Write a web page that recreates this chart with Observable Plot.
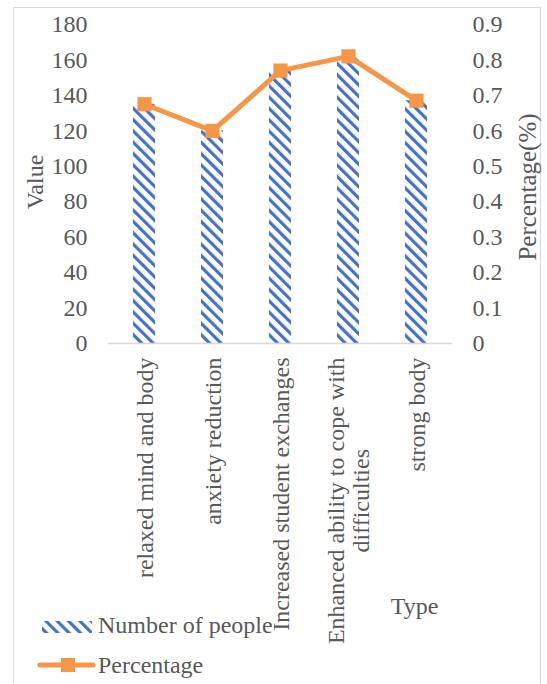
<!DOCTYPE html>
<html>
<head>
<meta charset="utf-8">
<script src="https://cdn.jsdelivr.net/npm/d3@7"></script>
<script src="https://cdn.jsdelivr.net/npm/@observablehq/plot@0.6"></script>
<style>
  html, body { margin: 0; padding: 0; background: #fff; overflow: hidden; }
  #wrap { position: relative; width: 547px; height: 684px; color: #595959;
          font-family: "Liberation Serif", "Times New Roman", serif; }
  #border { position: absolute; left: 13px; top: 7px; width: 528px; height: 720px;
            border: 1px solid #d9d9d9; box-sizing: border-box; pointer-events: none; }
  #chart { position: absolute; left: 0; top: 0; }
  #legend { position: absolute; left: 0; top: 600px; }
</style>
</head>
<body>
<div id="wrap">
  <div id="border"></div>
  <div id="chart"></div>
  <svg id="legend" width="547" height="84"></svg>
</div>
<script>
// Survey results by benefit type
const categories = [
  "relaxed mind and body",
  "anxiety reduction",
  "Increased student exchanges",
  "Enhanced ability to cope with difficulties",
  "strong body"
];
const labelLines = [
  ["relaxed mind and body"],
  ["anxiety reduction"],
  ["Increased student exchanges"],
  ["Enhanced ability to cope with", "difficulties"],
  ["strong body"]
];
const people = [135, 120, 154, 162, 137];
const percentage = [0.675, 0.6, 0.77, 0.81, 0.685];

const valueTicks = [0, 20, 40, 60, 80, 100, 120, 140, 160, 180];
const pctTicks = [0, 0.1, 0.2, 0.3, 0.4, 0.5, 0.6, 0.7, 0.8, 0.9];

const blue = "#4472C4";
const orange = "#F79646";
const font = "'Liberation Serif', 'Times New Roman', serif";

// The secondary (percentage) axis shares the plot's y scale
const valueMax = 180, pctMax = 0.9;
const ratio = valueMax / pctMax;

const rows = categories.map((c, i) => ({category: c, people: people[i], pct: percentage[i], lines: labelLines[i]}));

// width of a label line, to anchor rotated labels just below the axis
const ctx = document.createElement("canvas").getContext("2d");
ctx.font = "24px 'Liberation Serif'";
const measure = (s) => ctx.measureText(s).width;

const labelMarks = rows.map((r) => {
  const w = d3.max(r.lines, measure);
  return Plot.text([r], {
    x: "category",
    frameAnchor: "bottom",
    text: (d) => d.lines.join("\n"),
    rotate: -90,
    textAnchor: "middle",
    lineAnchor: "middle",
    lineHeight: 1.05,
    fontSize: 24,
    dy: 14 + w / 2
  });
});

const chart = Plot.plot({
  width: 547,
  height: 684,
  marginLeft: 108,
  marginRight: 95,
  marginTop: 24,
  marginBottom: 341,
  style: {fontFamily: font, fontSize: "24px", color: "#595959", background: "transparent", overflow: "visible"},
  x: {domain: categories, paddingInner: 0.68, paddingOuter: 0.34, axis: null},
  y: {domain: [0, valueMax], axis: null},
  marks: [
    Plot.barY(rows, {x: "category", y: "people", fill: "url(#hatch)"}),
    Plot.ruleY([0], {stroke: "#d9d9d9", strokeWidth: 1.5}),
    Plot.axisY(valueTicks, {anchor: "left", tickSize: 0, tickPadding: 21, fontSize: 24, label: null}),
    Plot.axisY(pctTicks.map((p) => p * ratio), {
      anchor: "right", tickSize: 0, tickPadding: 20, fontSize: 24, label: null,
      tickFormat: (d) => String(Math.round(d / ratio * 10) / 10)
    }),
    Plot.line(rows, {x: "category", y: (d) => d.pct * ratio, stroke: orange, strokeWidth: 5, strokeLinejoin: "round"}),
    Plot.dot(rows, {x: "category", y: (d) => d.pct * ratio, symbol: "square", r: 8, fill: orange, stroke: null}),
    ...labelMarks,
    Plot.text(["Value"], {frameAnchor: "left", dx: -73, dy: -2, rotate: -90, fontSize: 24, textAnchor: "middle", lineAnchor: "middle"}),
    Plot.text(["Percentage(%)"], {frameAnchor: "right", dx: 75, dy: 3, rotate: -90, fontSize: 25, textAnchor: "middle", lineAnchor: "middle"}),
    Plot.text(["Type"], {frameAnchor: "bottom-right", dx: -38, dy: 263, fontSize: 24, textAnchor: "middle", lineAnchor: "middle"})
  ]
});

// diagonal hatch used by the bars
const defs = d3.select(chart).insert("defs", ":first-child");
function addHatch(sel, id) {
  sel.append("pattern")
    .attr("id", id)
    .attr("patternUnits", "userSpaceOnUse")
    .attr("width", 8)
    .attr("height", 8)
    .attr("patternTransform", "rotate(-45)")
    .append("rect")
    .attr("width", 3.2)
    .attr("height", 8)
    .attr("fill", blue);
}
addHatch(defs, "hatch");
document.getElementById("chart").appendChild(chart);

// legend
const legend = d3.select("#legend")
  .style("font-family", font)
  .style("font-size", "24px");
addHatch(legend.append("defs"), "hatchLegend");
legend.append("rect").attr("x", 42).attr("y", 21).attr("width", 50).attr("height", 12).attr("fill", "url(#hatchLegend)");
legend.append("text").attr("x", 98).attr("y", 33).attr("fill", "#595959").text("Number of people");
legend.append("line").attr("x1", 40).attr("x2", 93).attr("y1", 65).attr("y2", 65)
  .attr("stroke", orange).attr("stroke-width", 5).attr("stroke-linecap", "round");
legend.append("rect").attr("x", 61).attr("y", 58).attr("width", 14).attr("height", 14).attr("fill", orange);
legend.append("text").attr("x", 98).attr("y", 73).attr("fill", "#595959").text("Percentage");
</script>
</body>
</html>
